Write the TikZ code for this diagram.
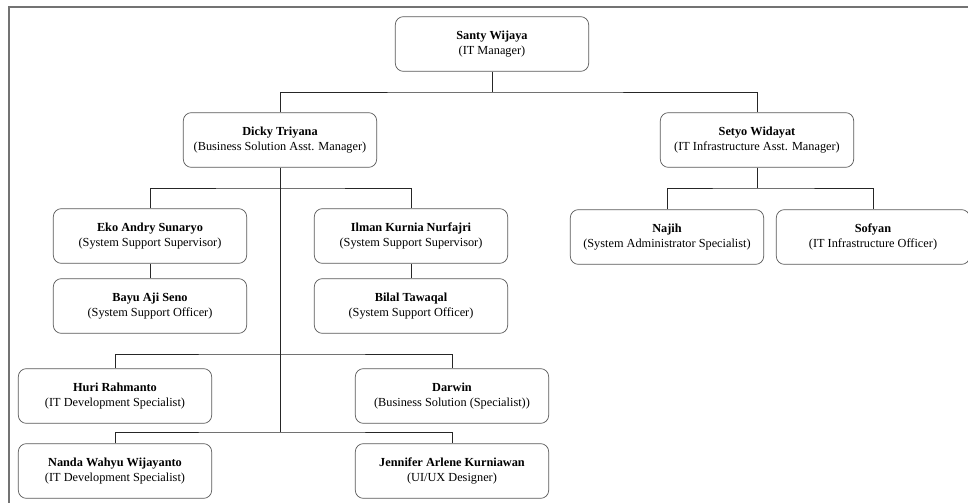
\documentclass[tikz,border=0pt]{standalone}
\usepackage{fontspec}
\setmainfont{Liberation Serif}
\usetikzlibrary{calc}

\newcommand{\jabatan}[2]{\textbf{#1}\\(#2)}

\begin{document}
\begin{tikzpicture}[x=0.03cm, y=-0.03cm,
    staff/.style={draw=black!65, line width=0.6pt, rounded corners=0.24cm,
      minimum width=5.8cm, minimum height=1.64cm, align=center, inner sep=2pt,
      font=\fontsize{10.5}{13.5}\selectfont},
    garis/.style={draw=black!85, line width=0.6pt},
    bingkai/.style={draw=black!55, line width=1.3pt}]
    \useasboundingbox (0,0) rectangle (968,503);

    % Bingkai
    \draw[bingkai] (9,503) -- (9,7) -- (968,7);

    % Manager
    \node[staff] (santy) at (492,44) {\jabatan{Santy Wijaya}{IT Manager}};

    % Asst. Manager
    \node[staff] (dicky) at (280,140) {\jabatan{Dicky Triyana}{Business Solution Asst. Manager}};
    \node[staff] (setyo) at (757,140) {\jabatan{Setyo Widayat}{IT Infrastructure Asst. Manager}};

    % Business Solution
    \node[staff] (eko) at (150,236) {\jabatan{Eko Andry Sunaryo}{System Support Supervisor}};
    \node[staff] (ilman) at (411,236) {\jabatan{Ilman Kurnia Nurfajri}{System Support Supervisor}};
    \node[staff] (bayu) at (150,306) {\jabatan{Bayu Aji Seno}{System Support Officer}};
    \node[staff] (bilal) at (411,306) {\jabatan{Bilal Tawaqal}{System Support Officer}};
    \node[staff] (huri) at (115,396) {\jabatan{Huri Rahmanto}{IT Development Specialist}};
    \node[staff] (darwin) at (452,396) {\jabatan{Darwin}{Business Solution (Specialist)}};
    \node[staff] (nanda) at (115,471) {\jabatan{Nanda Wahyu Wijayanto}{IT Development Specialist}};
    \node[staff] (jennifer) at (452,471) {\jabatan{Jennifer Arlene Kurniawan}{UI/UX Designer}};

    % IT Infrastructure
    \node[staff] (najih) at (667,237) {\jabatan{Najih}{System Administrator Specialist}};
    \node[staff] (sofyan) at (873,237) {\jabatan{Sofyan}{IT Infrastructure Officer}};

    % Titik cabang
    \coordinate (c1) at (492,92);
    \coordinate (c2) at (280,188);
    \coordinate (c3) at (280,354);
    \coordinate (c4) at (280,432);
    \coordinate (c5) at (757,188);

    % Garis
    \draw[garis] (santy.south) -- (c1);
    \draw[garis] (dicky.north) |- (c1) -| (setyo.north);
    \draw[garis] (dicky.south) -- (c4);
    \draw[garis] (eko.north) |- (c2) -| (ilman.north);
    \draw[garis] (eko.south) -- (bayu.north);
    \draw[garis] (ilman.south) -- (bilal.north);
    \draw[garis] (huri.north) |- (c3) -| (darwin.north);
    \draw[garis] (nanda.north) |- (c4) -| (jennifer.north);
    \draw[garis] (setyo.south) -- (c5);
    \draw[garis] (najih.north) |- (c5) -| (sofyan.north);
\end{tikzpicture}
\end{document}
